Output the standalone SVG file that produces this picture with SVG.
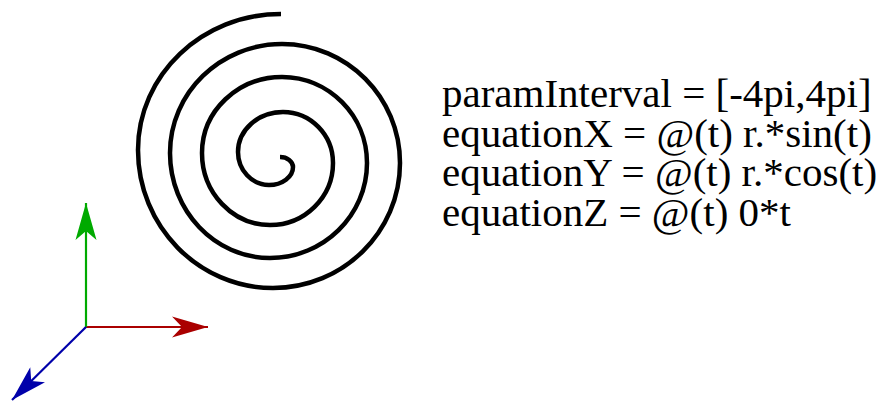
<svg xmlns="http://www.w3.org/2000/svg" width="878" height="401" viewBox="0 0 878 401">
<style>
.spiral{fill:none;stroke:#000;stroke-width:4.5;stroke-linecap:butt;stroke-linejoin:round}
.eq{font-family:"Liberation Serif","Times New Roman",serif;font-size:41px;fill:#000}
.ax{stroke-width:2.2;fill:none}
</style>
<defs>
<marker id="ahR" markerUnits="userSpaceOnUse" markerWidth="40" markerHeight="24" refX="0" refY="0" orient="auto" overflow="visible"><path d="M0,0 L-36,-10.5 L-26,0 L-36,10.5 Z" fill="#aa0000"/></marker>
<marker id="ahG" markerUnits="userSpaceOnUse" markerWidth="40" markerHeight="24" refX="0" refY="0" orient="auto" overflow="visible"><path d="M0,0 L-37,-10.5 L-28,0 L-37,10.5 Z" fill="#00aa00"/></marker>
<marker id="ahB" markerUnits="userSpaceOnUse" markerWidth="40" markerHeight="24" refX="0" refY="0" orient="auto" overflow="visible"><path d="M0,0 L-36,-10.5 L-27,0 L-36,10.5 Z" fill="#0000aa"/></marker>
</defs>
<g id="spiral">
<path class="spiral" d="M280,157 C287.2,157 293,161.5 293,167 C293,176.9 282.2,185 269,185 C251.9,185 238,170.2 238,152 C238,129.9 258.2,112 283,112 C310.6,112 333,134.8 333,163 C333,197.2 304.8,225 270,225 C232.5,225 202,192.7 202,153 C202,111 237.8,77 282,77 C328.9,77 367,115.5 367,163 C367,215.4 323.5,258 270,258 C214.8,258 170,211 170,153 C170,92.8 220.2,44 282,44 C347.1,44 400,97.3 400,163 C400,232 343.1,288 273,288 C198.5,288 138,226.2 138,150 C138,74.9 202.1,14 281,14"/>
</g>
<g id="equations">
<text class="eq" x="442" y="107">paramInterval = [-4pi,4pi]</text>
<text class="eq" x="442" y="146.5">equationX = @(t) r.*sin(t)</text>
<text class="eq" x="442" y="186">equationY = @(t) r.*cos(t)</text>
<text class="eq" x="442" y="225.5">equationZ = @(t) 0*t</text>
</g>
<g id="axes">
<line class="ax" x1="86" y1="327" x2="208" y2="327" stroke="#aa0000" marker-end="url(#ahR)"/>
<line class="ax" x1="86" y1="327" x2="86" y2="203" stroke="#00aa00" marker-end="url(#ahG)"/>
<line class="ax" x1="86" y1="327" x2="12" y2="400" stroke="#0000aa" marker-end="url(#ahB)"/>
</g>
</svg>
